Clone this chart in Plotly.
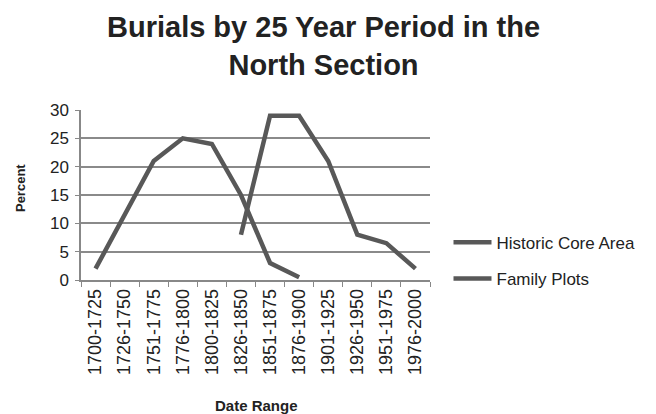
import plotly.graph_objects as go

categories = ["1700-1725", "1726-1750", "1751-1775", "1776-1800", "1800-1825",
              "1826-1850", "1851-1875", "1876-1900", "1901-1925", "1926-1950",
              "1951-1975", "1976-2000"]
historic_core = [2, 11.5, 21, 25, 24, 15, 3, 0.5, None, None, None, None]
family_plots = [None, None, None, None, None, 8, 29, 29, 21, 8, 6.5, 2]
y_ticks = [0, 5, 10, 15, 20, 25, 30]

line_color = "#585858"
text_color = "#222222"
font_family = "Liberation Sans, Arial, sans-serif"

fig = go.Figure()
fig.add_trace(go.Scatter(x=categories, y=historic_core, mode="lines", name="Historic Core Area",
                         line=dict(color=line_color, width=4.5), connectgaps=False, legendgroup="a"))
fig.add_trace(go.Scatter(x=categories, y=family_plots, mode="lines", name="Family Plots",
                         line=dict(color=line_color, width=4.5), connectgaps=False, legendgroup="b"))

fig.update_layout(
    width=656, height=414,
    margin=dict(l=81, r=226, t=110, b=134, autoexpand=False),
    paper_bgcolor="white", plot_bgcolor="white",
    font=dict(family=font_family, color=text_color),
    showlegend=True,
    legend=dict(x=1.053, y=0.325, xanchor="left", yanchor="top", tracegroupgap=11,
                itemwidth=38, font=dict(size=17, color=text_color), bgcolor="rgba(0,0,0,0)"),
    xaxis=dict(type="category", tickangle=-90, tickfont=dict(size=18),
               ticks="outside", ticklen=5, tickcolor="#888", tickson="boundaries",
               showline=True, linecolor="#888", linewidth=1.5, showgrid=False,
               automargin=False, range=[-0.5, 11.5]),
    yaxis=dict(range=[0, 30], tickvals=y_ticks, tickfont=dict(size=17),
               showgrid=True, gridcolor="#8a8a8a", gridwidth=1.5,
               ticks="outside", ticklen=4, tickcolor="#888", ticklabelstandoff=3,
               showline=True, linecolor="#888", linewidth=1.5, zeroline=False,
               automargin=False),
    annotations=[
        dict(text="<b>Burials by 25 Year Period in the<br>North Section</b>",
             xref="paper", yref="paper", x=(323 - 81) / 349, y=(280 - 46) / 170,
             xanchor="center", yanchor="middle", showarrow=False,
             font=dict(size=29, color=text_color)),
        dict(text="<b>Percent</b>", xref="paper", yref="paper",
             x=-(81 - 20) / 349, y=0.541, textangle=-90, xanchor="center", yanchor="middle",
             showarrow=False, font=dict(size=13, color=text_color)),
        dict(text="<b>Date Range</b>", xref="paper", yref="paper",
             x=(256 - 81) / 349, y=-(405 - 280) / 170, xanchor="center", yanchor="middle",
             showarrow=False, font=dict(size=15, color=text_color)),
    ],
)

fig.write_html("out.html", config={"displayModeBar": False},
               post_script="document.body.style.margin='0';")
